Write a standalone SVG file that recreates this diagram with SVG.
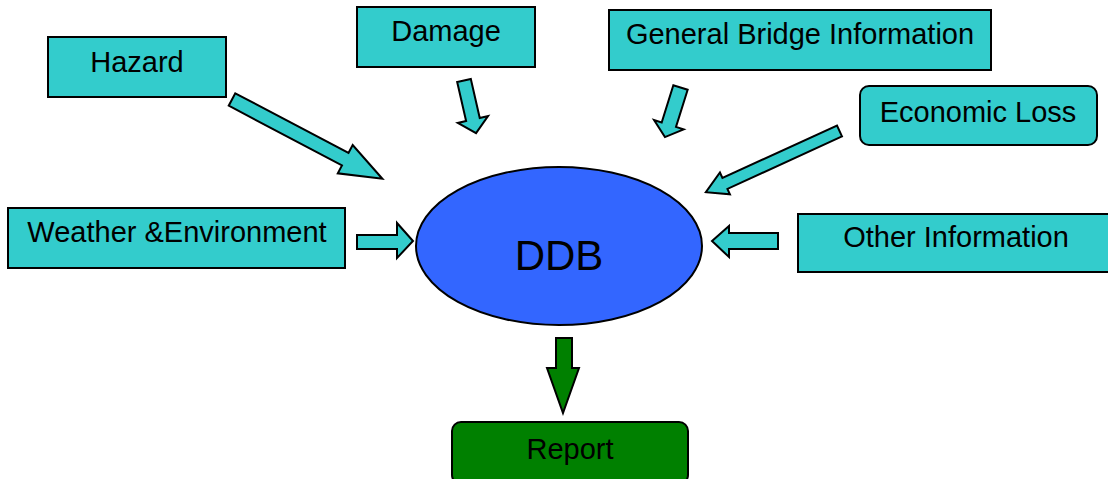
<svg xmlns="http://www.w3.org/2000/svg" width="1108" height="479" viewBox="0 0 1108 479">
<style>
.box{fill:#33CCCC;stroke:#000;stroke-width:2}
.arr{fill:#33CCCC;stroke:#000;stroke-width:2;stroke-linejoin:miter}
.garr{fill:#008000;stroke:#000;stroke-width:2}
.t{font-family:"Liberation Sans",Arial,sans-serif;font-size:29px;fill:#000;text-anchor:middle}
</style>
<rect width="1108" height="479" fill="#fff"/>
<g id="connectors">
<polygon class="arr" transform="translate(232,99.5) rotate(27.8)" points="0,-7 128,-7 128,-16 170,0 128,16 128,7 0,7"/>
<polygon class="arr" transform="translate(464,80.5) rotate(77.1)" points="0,-7 40,-7 40,-15.5 54,0 40,15.5 40,7 0,7"/>
<polygon class="arr" transform="translate(680.5,87.5) rotate(107.4)" points="0,-7.5 39,-7.5 39,-15.5 52,0 39,15.5 39,7.5 0,7.5"/>
<polygon class="arr" transform="translate(839.5,131) rotate(155.4)" points="0,-6 126,-6 126,-12 147,0 126,12 126,6 0,6"/>
<polygon class="arr" points="357,235 397,235 397,223 413,241 397,258 397,249 357,249"/>
<polygon class="arr" points="778,233 729,233 729,226 712,241 729,257 729,249 778,249"/>
<polygon class="garr" points="556,338 572,338 572,368 579,368 563,413 547,368 556,368"/>
</g>
<g id="hazard"><rect class="box" x="48" y="37" width="178" height="60"/><text class="t" x="137" y="72">Hazard</text></g>
<g id="damage"><rect class="box" x="357" y="7" width="178" height="60"/><text class="t" x="446" y="41">Damage</text></g>
<g id="general-bridge"><rect class="box" x="609" y="10" width="382" height="60"/><text class="t" x="800" y="44">General Bridge Information</text></g>
<g id="economic-loss"><rect class="box" x="860" y="86" width="237" height="59" rx="9"/><text class="t" x="978" y="122">Economic Loss</text></g>
<g id="weather"><rect class="box" x="8" y="208" width="337" height="60"/><text class="t" x="177" y="242">Weather &amp;Environment</text></g>
<g id="other-info"><rect class="box" x="798" y="214" width="312" height="58"/><text class="t" x="956" y="247">Other Information</text></g>
<g id="ddb"><ellipse cx="559" cy="246" rx="143" ry="79" fill="#3366FF" stroke="#000" stroke-width="2"/><text class="t" x="559" y="270" style="font-size:42px">DDB</text></g>
<g id="report"><rect x="452" y="422" width="236" height="62" rx="9" fill="#008000" stroke="#000" stroke-width="2"/><text class="t" x="570" y="459">Report</text></g>
</svg>
